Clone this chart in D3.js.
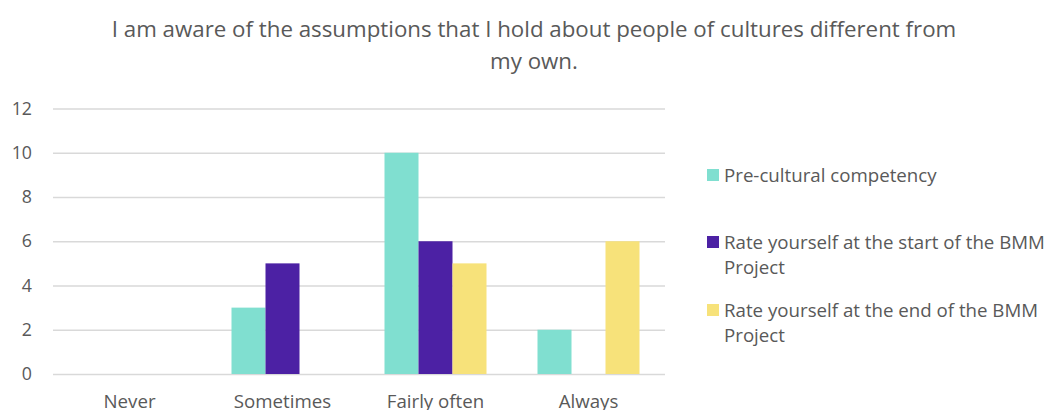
<!DOCTYPE html>
<html><head><meta charset="utf-8">
<script src="https://cdn.jsdelivr.net/npm/d3@7"></script>
<style>body{margin:0;background:#fff}svg{display:block}text{font-family:"Open Sans",sans-serif;fill:#595959}</style>
</head><body><svg id="c" width="1050" height="410"></svg>
<script>
const titleLines = ["I am aware of the assumptions that I hold about people of cultures different from", "my own."];
const categories = ["Never", "Sometimes", "Fairly often", "Always"];
const seriesNames = ["Pre-cultural competency", "Rate yourself at the start of the BMM Project", "Rate yourself at the end of the BMM Project"];
const legendLines = [["Pre-cultural competency"], ["Rate yourself at the start of the BMM", "Project"], ["Rate yourself at the end of the BMM", "Project"]];
const preValues = [0, 3, 10, 2];
const startValues = [0, 5, 6, 0];
const endValues = [0, 0, 5, 6];
const yTicks = [0, 2, 4, 6, 8, 10, 12];
const colors = ["#80DFD0", "#4C21A4", "#F7E27A"];

const series = [preValues, startValues, endValues];
const svg = d3.select("#c");
const L = 53, R = 665, T = 108.5, B = 374;

const x0 = d3.scaleBand().domain(categories).range([L, R]).paddingInner(1/3).paddingOuter(1/6);
const x1 = d3.scaleBand().domain(d3.range(series.length)).range([0, x0.bandwidth()]);
const y = d3.scaleLinear().domain([0, 12]).range([B, T]);

// title
svg.append("g").selectAll("text").data(titleLines).join("text")
  .attr("x", 534).attr("y", (d, i) => 37 + i * 32)
  .attr("text-anchor", "middle").style("font-size", "22.3px").text(d => d);

// grid
const ya = svg.append("g").attr("transform", `translate(${L},0)`)
  .call(d3.axisLeft(y).tickValues(yTicks).tickSize(-(R - L)).tickPadding(21));
ya.select(".domain").remove();
ya.selectAll(".tick line").attr("stroke", "#d9d9d9").attr("stroke-width", 1.5);
ya.selectAll(".tick text").style("font-size", "17.8px").attr("fill", "#595959").style("font-family", "Open Sans");

// bars
const g = svg.append("g");
categories.forEach((c, ci) => {
  series.forEach((s, si) => {
    if (s[ci] > 0) {
      g.append("rect").attr("x", x0(c) + x1(si)).attr("width", x1.bandwidth())
        .attr("y", y(s[ci])).attr("height", y(0) - y(s[ci])).attr("fill", colors[si]);
    }
  });
});

// x axis
const xa = svg.append("g").attr("transform", `translate(0,${B})`).call(d3.axisBottom(x0).tickSize(0).tickPadding(21));
xa.select(".domain").remove();
xa.selectAll(".tick text").style("font-size", "18.7px").attr("fill", "#595959").style("font-family", "Open Sans");

// legend
const legY = [175, 242, 310];
legendLines.forEach((lines, i) => {
  svg.append("rect").attr("x", 707).attr("y", legY[i] - 6).attr("width", 12).attr("height", 12).attr("fill", colors[i]);
  lines.forEach((t, j) => {
    svg.append("text").attr("x", 724).attr("y", legY[i] + 6.5 + j * 25.5).style("font-size", "18.7px").text(t);
  });
});
</script></body></html>
